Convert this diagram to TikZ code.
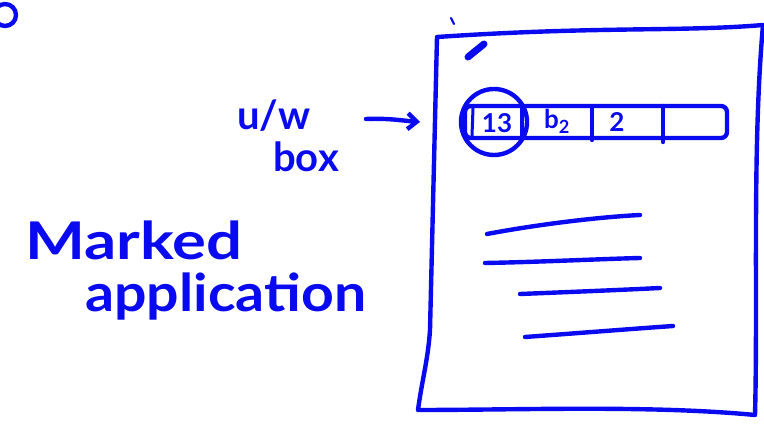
\documentclass[tikz,border=0pt]{standalone}
\usepackage{fontspec}
\setmainfont{Lato}
\usetikzlibrary{arrows.meta}
\definecolor{ink}{RGB}{10,10,240}
\tikzset{
  pen/.style={draw=ink, line width=4.4pt, line cap=round, line join=round},
  hand/.style={text=ink, inner sep=0pt, font=\fontsize{40}{40}\selectfont},
  small/.style={text=ink, inner sep=0pt, font=\bfseries\fontsize{26}{26}\selectfont},
}
\begin{document}
\begin{tikzpicture}[x=1pt,y=-1pt]
\useasboundingbox (0,0) rectangle (764,430);
% partial circle top-left
\draw[pen] (5,15) circle (11);
% page outline
\coordinate (p1) at (437,37);
\coordinate (p2) at (763,25);
\coordinate (p3) at (755,415);
\coordinate (p4) at (418,410);
\draw[pen] (p1) .. controls (600,26) and (680,32) .. (p2)
  .. controls (752,150) and (758,300) .. (p3)
  .. controls (650,405) and (520,410) .. (p4)
  .. controls (422,380) and (428,360) .. (430,330) -- (p1);
% marks near top-left corner
\draw[pen, line width=2.2pt] (451,18) -- (454,24);
\draw[pen, line width=7pt] (468,57) -- (484,44);
% strip of boxes
\draw[pen, rounded corners=6pt] (465,106) rectangle (727,138);
\draw[pen, line width=3pt] (473,108) -- (472,136);
\draw[pen] (522,106) -- (522,138);
\draw[pen] (592,106) -- (592,140);
\draw[pen] (663,106) -- (663,142);
\node[small] (c1) at (497,123) {13};
\node[small] (c2) at (557,121) {b\textsubscript{2}};
\node[small] (c3) at (617,122) {2};
\draw[pen] (494,122) circle (33);
% label and arrow
\node[hand, font=\bfseries\fontsize{40}{40}\selectfont] (uw) at (274,116) {u/w};
\node[hand, font=\bfseries\fontsize{40}{40}\selectfont] (box) at (306,157) {box};
\coordinate (arrowend) at (420,122);
\draw[pen, -{Straight Barb[length=9pt,width=16pt]}] (366,119) .. controls (390,118) and (405,121) .. (arrowend);
% marked application
\node[hand, xscale=1.22, font=\bfseries\fontsize{52}{52}\selectfont, anchor=west] (marked) at (25,240) {Marked};
\node[hand, xscale=1.1, font=\bfseries\fontsize{52}{52}\selectfont, anchor=west] (app) at (85,297) {application};
% text lines on page
\draw[pen] (487,234) .. controls (540,224) and (600,217) .. (640,215);
\draw[pen] (485,263) .. controls (540,262) and (600,259) .. (640,258);
\draw[pen] (520,294) .. controls (570,292) and (620,290) .. (660,288);
\draw[pen] (525,337) .. controls (580,333) and (630,329) .. (673,326);
\end{tikzpicture}
\end{document}
